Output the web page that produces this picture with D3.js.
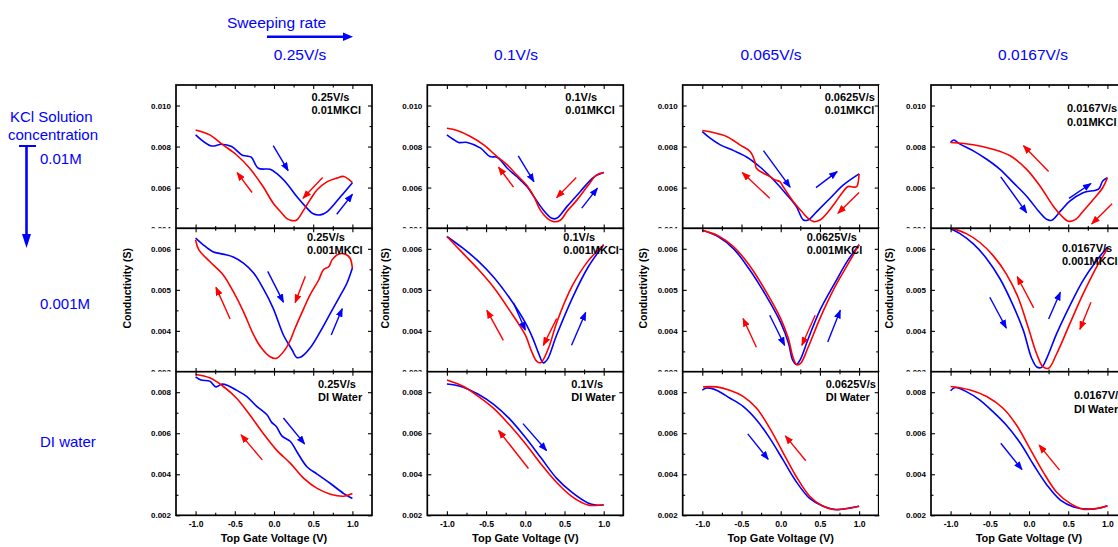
<!DOCTYPE html>
<html><head><meta charset="utf-8">
<script src="https://cdn.jsdelivr.net/npm/d3@7"></script>
<style>body{margin:0;background:#fff}svg{display:block}text{font-family:"Liberation Sans",Arial,sans-serif}</style>
</head><body>
<script>
// ---------- data ----------
const headerRates = ["0.25V/s","0.1V/s","0.065V/s","0.0167V/s"];
const panelRates = ["0.25V/s","0.1V/s","0.0625V/s","0.0167V/s"];
const concentrations = ["0.01M","0.001M","DI water"];
const panelMedia = ["0.01MKCl","0.001MKCl","DI Water"];
const xTicks = [-1,-0.5,0,0.5,1];
const xMinor = [-0.75,-0.25,0.25,0.75];
const yDomains = [[0.004,0.011],[0.003,0.0065],[0.002,0.009]];
const yTicks = [[0.004,0.006,0.008,0.010],[0.003,0.004,0.005,0.006],[0.002,0.004,0.006,0.008]];
const yMinor = [[0.005,0.007,0.009],[0.0035,0.0045,0.0055],[0.003,0.005,0.007]];

// forward sweep (blue, -1 -> 1) and reverse sweep (red, 1 -> -1): [V, S]
const fwd_r1c1 = [[-1,0.00857],[-0.80,0.00803],[-0.67,0.00811],[-0.54,0.0080],[-0.41,0.00759],[-0.35,0.00754],[-0.29,0.00748],[-0.20,0.00694],[-0.05,0.00689],[0.03,0.0067],[0.16,0.00621],[0.29,0.00556],[0.42,0.0050],[0.50,0.00472],[0.59,0.00467],[0.68,0.00483],[0.85,0.00556],[1.0,0.00624]];
const rev_r1c1 = [[1,0.00624],[0.89,0.00654],[0.80,0.00646],[0.68,0.00629],[0.55,0.00589],[0.46,0.0054],[0.38,0.00491],[0.29,0.00442],[0.23,0.00439],[0.16,0.0045],[0.10,0.00475],[-0.01,0.00524],[-0.14,0.00605],[-0.31,0.00694],[-0.48,0.0076],[-0.65,0.00808],[-0.82,0.00857],[-1,0.00881]];
const fwd_r1c2 = [[-1,0.00857],[-0.91,0.00833],[-0.85,0.0082],[-0.74,0.0082],[-0.57,0.00792],[-0.45,0.00751],[-0.36,0.00748],[-0.23,0.00694],[-0.11,0.00654],[0.02,0.00605],[0.11,0.00556],[0.23,0.00491],[0.34,0.0045],[0.40,0.0045],[0.53,0.00507],[0.70,0.0058],[0.87,0.0065],[1.0,0.00673]];
const rev_r1c2 = [[1,0.00673],[0.91,0.00662],[0.79,0.00605],[0.66,0.0054],[0.53,0.00483],[0.45,0.00442],[0.36,0.00434],[0.28,0.0045],[0.19,0.00491],[0.11,0.00556],[0.02,0.0061],[-0.11,0.00662],[-0.23,0.00711],[-0.36,0.00751],[-0.53,0.00808],[-0.70,0.00849],[-0.87,0.00878],[-1,0.00889]];
const fwd_r1c3 = [[-1,0.00873],[-0.90,0.00841],[-0.77,0.00808],[-0.60,0.0078],[-0.43,0.00748],[-0.26,0.00699],[-0.09,0.00637],[0.08,0.00564],[0.20,0.00507],[0.29,0.00442],[0.35,0.00442],[0.46,0.00483],[0.63,0.00548],[0.80,0.00613],[1.0,0.00667]];
const rev_r1c3 = [[1,0.00667],[0.97,0.00605],[0.93,0.00602],[0.86,0.00605],[0.78,0.00572],[0.69,0.00524],[0.59,0.00475],[0.50,0.00442],[0.42,0.00434],[0.35,0.0045],[0.27,0.00483],[0.16,0.00532],[0.03,0.00605],[-0.01,0.00629],[-0.07,0.00637],[-0.14,0.00654],[-0.22,0.0067],[-0.31,0.00694],[-0.33,0.00727],[-0.39,0.00776],[-0.52,0.00808],[-0.69,0.00849],[-0.86,0.00868],[-1,0.00878]];
const fwd_r1c4 = [[-1,0.0082],[-0.96,0.00832],[-0.88,0.00812],[-0.71,0.00779],[-0.54,0.00738],[-0.37,0.00689],[-0.20,0.00624],[-0.03,0.00558],[0.14,0.00477],[0.23,0.00444],[0.29,0.00441],[0.40,0.00485],[0.52,0.00534],[0.69,0.00575],[0.89,0.00594],[0.94,0.00632],[1.0,0.00648]];
const rev_r1c4 = [[1,0.00648],[0.94,0.00599],[0.82,0.00542],[0.69,0.00485],[0.59,0.00444],[0.50,0.00436],[0.42,0.0046],[0.31,0.00509],[0.14,0.00608],[-0.03,0.00689],[-0.24,0.00755],[-0.46,0.00787],[-0.71,0.00809],[-1,0.0082]];

const fwd_r2c1 = [[-1,0.00626],[-0.91,0.00611],[-0.78,0.00593],[-0.65,0.00587],[-0.52,0.0058],[-0.39,0.00565],[-0.26,0.00541],[-0.14,0.00504],[-0.01,0.00455],[0.12,0.0039],[0.23,0.00354],[0.29,0.00335],[0.35,0.00337],[0.46,0.00358],[0.59,0.00398],[0.72,0.00443],[0.85,0.00488],[0.93,0.00516],[1.0,0.00553]];
const rev_r2c1 = [[1,0.00553],[0.97,0.00577],[0.91,0.00587],[0.82,0.00587],[0.74,0.00573],[0.70,0.00557],[0.63,0.00549],[0.57,0.00524],[0.46,0.00488],[0.38,0.00455],[0.27,0.00407],[0.21,0.00378],[0.14,0.00354],[0.03,0.00333],[-0.05,0.00337],[-0.16,0.00358],[-0.26,0.0039],[-0.39,0.00447],[-0.52,0.00496],[-0.65,0.00537],[-0.82,0.00569],[-0.96,0.00598],[-1,0.00622]];
const fwd_r2c2 = [[-1,0.0063],[-0.8,0.00602],[-0.6,0.0057],[-0.4,0.0053],[-0.2,0.0048],[0,0.0042],[0.1,0.0038],[0.17,0.00345],[0.23,0.00322],[0.28,0.0033],[0.4,0.0039],[0.6,0.0048],[0.8,0.00555],[1.0,0.0061]];
const rev_r2c2 = [[1,0.0061],[0.8,0.0057],[0.6,0.0051],[0.4,0.0042],[0.3,0.0036],[0.2,0.00323],[0.15,0.00325],[0.08,0.0035],[0,0.0039],[-0.2,0.0045],[-0.4,0.00505],[-0.6,0.0055],[-0.8,0.0059],[-1,0.0063]];
const fwd_r2c3 = [[-1,0.00645],[-0.8,0.0063],[-0.6,0.006],[-0.4,0.0055],[-0.2,0.0049],[0,0.0042],[0.1,0.0037],[0.15,0.0033],[0.2,0.00318],[0.25,0.0033],[0.35,0.0038],[0.5,0.0045],[0.7,0.0052],[0.85,0.0057],[1,0.0061]];
const rev_r2c3 = [[1,0.0061],[0.85,0.0056],[0.7,0.0051],[0.5,0.0043],[0.35,0.0036],[0.25,0.0032],[0.2,0.00318],[0.15,0.0034],[0.1,0.0038],[0,0.0043],[-0.2,0.005],[-0.4,0.0056],[-0.6,0.00605],[-0.8,0.00632],[-1,0.00645]];
const fwd_r2c4 = [[-1,0.00649],[-0.88,0.00637],[-0.71,0.00612],[-0.54,0.00576],[-0.37,0.00527],[-0.20,0.00461],[-0.07,0.004],[0.03,0.00335],[0.10,0.00312],[0.16,0.00311],[0.23,0.00335],[0.35,0.00392],[0.52,0.00461],[0.69,0.00523],[0.86,0.00571],[1,0.00604]];
const rev_r2c4 = [[1,0.006],[0.86,0.00555],[0.69,0.0049],[0.52,0.00417],[0.35,0.00343],[0.25,0.00309],[0.18,0.00312],[0.10,0.00343],[-0.01,0.00408],[-0.14,0.00482],[-0.29,0.00539],[-0.46,0.00584],[-0.63,0.00616],[-0.80,0.00637],[-1,0.00651]];

const fwd_r3c1 = [[-1,0.00875],[-0.93,0.00859],[-0.82,0.00854],[-0.74,0.00826],[-0.67,0.00839],[-0.59,0.00833],[-0.48,0.0081],[-0.35,0.0078],[-0.22,0.00731],[-0.09,0.0069],[-0.03,0.00653],[0.03,0.00633],[0.10,0.00587],[0.21,0.0056],[0.29,0.00511],[0.42,0.00437],[0.55,0.00401],[0.72,0.00355],[0.89,0.00306],[1.0,0.00282]];
const rev_r3c1 = [[1,0.00306],[0.89,0.00293],[0.72,0.00303],[0.55,0.00331],[0.38,0.0038],[0.21,0.00453],[0.03,0.00519],[-0.14,0.006],[-0.31,0.0069],[-0.48,0.00772],[-0.65,0.00829],[-0.82,0.0087],[-1,0.00886]];
const fwd_r3c2 = [[-1,0.0084],[-0.9,0.00835],[-0.8,0.00825],[-0.6,0.0079],[-0.4,0.0074],[-0.2,0.0067],[0,0.0058],[0.2,0.0048],[0.4,0.0038],[0.6,0.0031],[0.8,0.0026],[0.9,0.0025],[1.0,0.0025]];
const rev_r3c2 = [[1,0.0025],[0.9,0.00248],[0.8,0.0025],[0.6,0.0029],[0.4,0.0036],[0.2,0.0045],[0,0.0055],[-0.2,0.0064],[-0.4,0.0072],[-0.6,0.0078],[-0.8,0.0083],[-1,0.0086]];
const fwd_r3c3 = [[-1,0.0081],[-0.94,0.00821],[-0.82,0.0081],[-0.65,0.00772],[-0.48,0.00731],[-0.31,0.00666],[-0.14,0.00576],[0.03,0.0047],[0.20,0.00363],[0.37,0.00282],[0.54,0.00244],[0.71,0.00228],[0.89,0.00236],[1,0.00244]];
const rev_r3c3 = [[1,0.00244],[0.84,0.00233],[0.67,0.00228],[0.52,0.00249],[0.37,0.00293],[0.20,0.00388],[0.03,0.00506],[-0.14,0.00625],[-0.31,0.00723],[-0.48,0.0078],[-0.65,0.0081],[-0.82,0.00826],[-0.99,0.00826]];
const fwd_r3c4 = [[-1,0.00807],[-0.94,0.00823],[-0.80,0.00803],[-0.63,0.00763],[-0.46,0.00705],[-0.29,0.0064],[-0.11,0.00551],[0.06,0.00445],[0.23,0.00347],[0.40,0.00274],[0.57,0.00241],[0.74,0.0023],[0.91,0.00236],[1,0.00246]];
const rev_r3c4 = [[1,0.00246],[0.86,0.00233],[0.69,0.0023],[0.53,0.00257],[0.35,0.00314],[0.18,0.00412],[0.01,0.00526],[-0.16,0.0064],[-0.33,0.00722],[-0.54,0.00779],[-0.75,0.00811],[-1,0.00828]];

// sweep-direction arrows: [[V0,S0],[V1,S1]]
const fwdArrows = [
  [ [[[-0.01,0.00805],[0.18,0.00683]],[[0.80,0.0047],[1.0,0.00567]]],
    [[[-0.09,0.00754],[0.11,0.00629]],[[0.72,0.005],[0.92,0.00597]]],
    [[[-0.22,0.0078],[0.12,0.00602]],[[0.45,0.006],[0.72,0.00678]]],
    [[[-0.36,0.00652],[-0.03,0.00477]],[[0.51,0.00547],[0.79,0.0062]]] ],
  [ [[[-0.08,0.00545],[0.12,0.0047]],[[0.73,0.0039],[0.87,0.00454]]],
    [[[-0.15,0.00468],[0.0,0.00402]],[[0.59,0.00365],[0.77,0.00445]]],
    [[[-0.14,0.00438],[0.05,0.00365]],[[0.60,0.00373],[0.76,0.0045]]],
    [[[-0.50,0.00482],[-0.29,0.00407]],[[0.25,0.00429],[0.40,0.00494]]] ],
  [ [[[0.12,0.00674],[0.39,0.00548]]],
    [[[-0.03,0.00647],[0.27,0.00516]]],
    [[[-0.42,0.00597],[-0.16,0.00473]]],
    [[[-0.36,0.00551],[-0.09,0.00423]]] ]
];
const revArrows = [
  [ [[[0.62,0.00649],[0.37,0.00548]],[[-0.28,0.00576],[-0.47,0.00673]]],
    [[[0.65,0.00649],[0.40,0.00551]],[[-0.15,0.00602],[-0.34,0.00699]]],
    [[[-0.14,0.00548],[-0.49,0.00673]],[[1.0,0.00576],[0.73,0.00475]]],
    [[[0.25,0.00678],[-0.07,0.00804]],[[1.06,0.00521],[0.80,0.00423]]] ],
  [ [[[0.40,0.00533],[0.27,0.00469]],[[-0.56,0.00429],[-0.74,0.00506]]],
    [[[0.40,0.0043],[0.23,0.00365]],[[-0.28,0.00377],[-0.49,0.0045]]],
    [[[0.44,0.00438],[0.27,0.00365]],[[-0.31,0.0036],[-0.48,0.0043]]],
    [[[0.06,0.00456],[-0.15,0.00532]],[[0.79,0.0047],[0.65,0.00404]]] ],
  [ [[[-0.15,0.0047],[-0.42,0.00592]]],
    [[[0.04,0.00428],[-0.34,0.00613]]],
    [[[0.32,0.00466],[0.06,0.00587]]],
    [[[0.39,0.0042],[0.13,0.00542]]] ]
];

const forward = [[fwd_r1c1,fwd_r1c2,fwd_r1c3,fwd_r1c4],[fwd_r2c1,fwd_r2c2,fwd_r2c3,fwd_r2c4],[fwd_r3c1,fwd_r3c2,fwd_r3c3,fwd_r3c4]];
const reverse = [[rev_r1c1,rev_r1c2,rev_r1c3,rev_r1c4],[rev_r2c1,rev_r2c2,rev_r2c3,rev_r2c4],[rev_r3c1,rev_r3c2,rev_r3c3,rev_r3c4]];

// ---------- layout ----------
const W = 1118, H = 547;
const colLeft = [176, 427.3, 682.7, 931];
const panelW = 196;
const rowTop = [85, 228.3, 371.7];
const panelH = 143.6;
const BLUE = "#0000ff", RED = "#ff0000";
// annotation placement: [dx from right edge, baseline1 from top]
const annot = [
  [[-60.5,15.7],[-58,15.7],[-54,15.7],[-60,27.3]],
  [[-65,12.4],[-60,12.6],[-72,12.6],[-65,23.4]],
  [[-54,16.3],[-52,16.3],[-53,16.3],[-53,27.6]]
];
const ylabX = [127, 385, 643, 889];
const headerX = [300, 516, 771, 1033];

const svg = d3.select("body").append("svg").attr("width", W).attr("height", H);
const defs = svg.append("defs");
[["arB",BLUE],["arR",RED]].forEach(([id,c]) => {
  defs.append("marker").attr("id",id).attr("markerUnits","userSpaceOnUse")
    .attr("markerWidth",9).attr("markerHeight",7).attr("refX",8).attr("refY",3.5)
    .attr("orient","auto").append("path").attr("d","M0,0 L9,3.5 L0,7 Z").attr("fill",c);
});

// ---------- headers ----------
svg.append("text").attr("x",227).attr("y",28).attr("font-size",15.5).attr("fill",BLUE).text("Sweeping rate");
svg.append("line").attr("x1",267).attr("y1",36.7).attr("x2",345).attr("y2",36.7).attr("stroke",BLUE).attr("stroke-width",2.6);
svg.append("path").attr("d","M343,32.5 L353,36.7 L343,40.9 Z").attr("fill",BLUE);
headerRates.forEach((t,i) => svg.append("text").attr("x",headerX[i]).attr("y",60).attr("text-anchor","middle")
  .attr("font-size",15.5).attr("fill",BLUE).text(t));

svg.append("text").attr("x",10).attr("y",122).attr("font-size",15).attr("fill",BLUE).text("KCl Solution");
svg.append("text").attr("x",8).attr("y",140).attr("font-size",15).attr("fill",BLUE).text("concentration");
svg.append("line").attr("x1",19).attr("y1",146).attr("x2",36).attr("y2",146).attr("stroke",BLUE).attr("stroke-width",2);
svg.append("line").attr("x1",26.5).attr("y1",146).attr("x2",26.5).attr("y2",236).attr("stroke",BLUE).attr("stroke-width",2.6);
svg.append("path").attr("d","M22,234 L26.5,248 L31,234 Z").attr("fill",BLUE);
const concY = [164, 309, 447];
concentrations.forEach((t,i) => svg.append("text").attr("x",40).attr("y",concY[i]).attr("font-size",15).attr("fill",BLUE).text(t));

// ---------- panels ----------
const line = d3.line().curve(d3.curveCatmullRom.alpha(0.5));
const fmtY = d => d.toFixed(3);
const fmtX = d => d.toFixed(1);

for (let r = 0; r < 3; r++) {
  for (let c = 0; c < 4; c++) {
    const x0 = colLeft[c], y0 = rowTop[r];
    const x = d3.scaleLinear().domain([-1.25,1.25]).range([x0, x0+panelW]);
    const y = d3.scaleLinear().domain(yDomains[r]).range([y0+panelH, y0]);
    const g = svg.append("g");
    g.append("rect").attr("x",x0-52).attr("y",y0).attr("width",panelW+52).attr("height",panelH).attr("fill","#fff");
    const cid = `clip${r}${c}`;
    defs.append("clipPath").attr("id",cid).append("rect").attr("x",x0).attr("y",y0).attr("width",panelW).attr("height",panelH);
    const plot = g.append("g").attr("clip-path",`url(#${cid})`);

    plot.append("path").attr("d", line(forward[r][c].map(p => [x(p[0]), y(p[1])])))
      .attr("fill","none").attr("stroke",BLUE).attr("stroke-width",1.6);
    plot.append("path").attr("d", line(reverse[r][c].map(p => [x(p[0]), y(p[1])])))
      .attr("fill","none").attr("stroke",RED).attr("stroke-width",1.6);
    fwdArrows[r][c].forEach(a => plot.append("line").attr("x1",x(a[0][0])).attr("y1",y(a[0][1]))
      .attr("x2",x(a[1][0])).attr("y2",y(a[1][1])).attr("stroke",BLUE).attr("stroke-width",1.4).attr("marker-end","url(#arB)"));
    revArrows[r][c].forEach(a => plot.append("line").attr("x1",x(a[0][0])).attr("y1",y(a[0][1]))
      .attr("x2",x(a[1][0])).attr("y2",y(a[1][1])).attr("stroke",RED).attr("stroke-width",1.4).attr("marker-end","url(#arR)"));

    // axes: ticks inward on all four sides
    const bottom = d3.axisBottom(x).tickValues(xTicks).tickSize(-4).tickFormat(r === 2 ? fmtX : "");
    const bAx = g.append("g").attr("transform",`translate(0,${y0+panelH})`).call(bottom);
    g.append("g").attr("transform",`translate(0,${y0+panelH})`).call(d3.axisBottom(x).tickValues(xMinor).tickSize(-2.5).tickFormat(""));
    g.append("g").attr("transform",`translate(0,${y0})`).call(d3.axisTop(x).tickValues(xTicks).tickSize(-4).tickFormat(""));
    g.append("g").attr("transform",`translate(0,${y0})`).call(d3.axisTop(x).tickValues(xMinor).tickSize(-2.5).tickFormat(""));
    const lAx = g.append("g").attr("transform",`translate(${x0},0)`).call(d3.axisLeft(y).tickValues(yTicks[r]).tickSize(-4).tickFormat(fmtY));
    g.append("g").attr("transform",`translate(${x0},0)`).call(d3.axisLeft(y).tickValues(yMinor[r]).tickSize(-2.5).tickFormat(""));
    g.append("g").attr("transform",`translate(${x0+panelW},0)`).call(d3.axisRight(y).tickValues(yTicks[r]).tickSize(-4).tickFormat(""));
    g.append("g").attr("transform",`translate(${x0+panelW},0)`).call(d3.axisRight(y).tickValues(yMinor[r]).tickSize(-2.5).tickFormat(""));
    g.selectAll(".domain").remove();
    g.selectAll(".tick line").attr("stroke","#000").attr("stroke-width",1.1);
    lAx.selectAll(".tick text").attr("x",-5).attr("font-size",8).attr("font-weight","bold").attr("fill","#000")
      .attr("font-family","'Liberation Sans',Arial,sans-serif");
    bAx.selectAll(".tick text").attr("y",6).attr("font-size",8.6).attr("font-weight","bold").attr("fill","#000")
      .attr("font-family","'Liberation Sans',Arial,sans-serif");
    g.append("rect").attr("x",x0).attr("y",y0).attr("width",panelW).attr("height",panelH)
      .attr("fill","none").attr("stroke","#000").attr("stroke-width",1.7);

    // annotations
    const ax = x0 + panelW + annot[r][c][0], ay = y0 + annot[r][c][1];
    g.append("text").attr("x",ax).attr("y",ay).attr("font-size",11).attr("font-weight","bold").text(panelRates[c]);
    g.append("text").attr("x",ax).attr("y",ay+13.3).attr("font-size",11).attr("font-weight","bold").text(panelMedia[r]);

    if (r === 1) {
      g.append("text").attr("transform",`translate(${ylabX[c]+4},${y0+60}) rotate(-90)`).attr("text-anchor","middle")
        .attr("font-size",10.5).attr("font-weight","bold").text("Conductivity (S)");
    }
    if (r === 2) {
      g.append("text").attr("x",x0+panelW/2).attr("y",541.5).attr("text-anchor","middle")
        .attr("font-size",11).attr("font-weight","bold").text("Top Gate Voltage (V)");
    }
  }
}
</script>
</body></html>
